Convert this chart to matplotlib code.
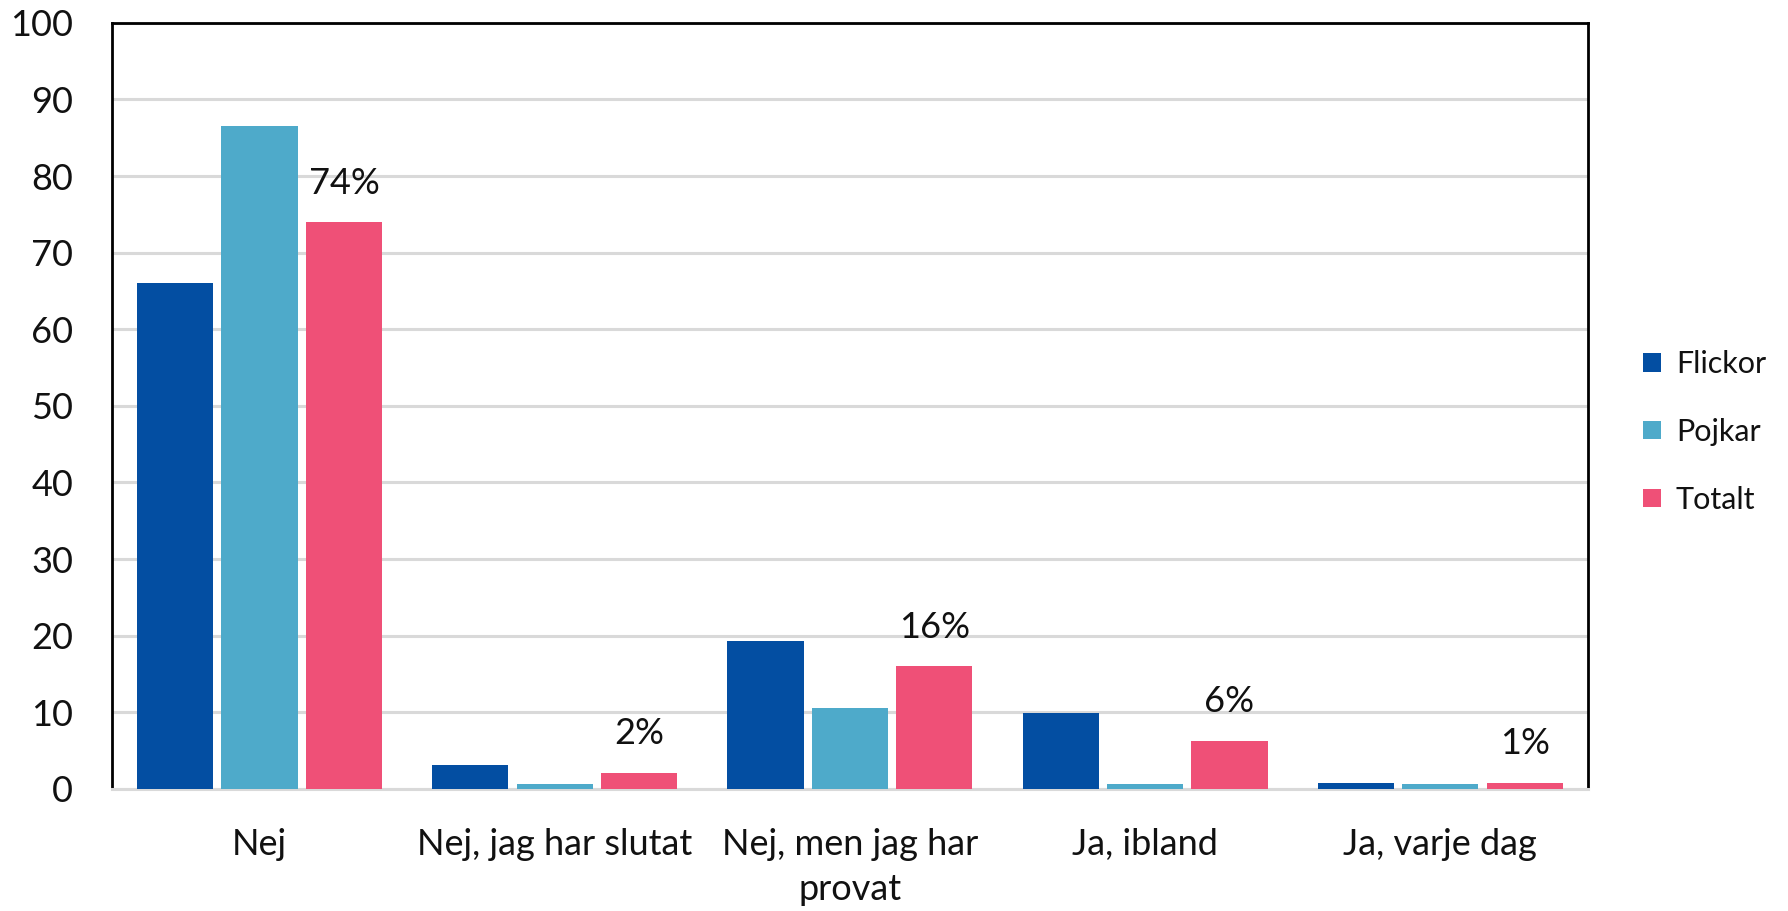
import matplotlib.pyplot as plt
import numpy as np

categories = ["Nej", "Nej, jag har slutat", "Nej, men jag har\nprovat", "Ja, ibland", "Ja, varje dag"]
series_names = ["Flickor", "Pojkar", "Totalt"]
flickor = [66.0, 3.1, 19.3, 9.9, 0.8]
pojkar = [86.5, 0.6, 10.5, 0.6, 0.6]
totalt = [74.0, 2.1, 16.0, 6.3, 0.8]
totalt_labels = ["74%", "2%", "16%", "6%", "1%"]
colors = ["#034ea2", "#4eaaca", "#ef5077"]


def main():
    plt.rcParams['font.family'] = ['Lato', 'DejaVu Sans']
    fig = plt.figure(figsize=(17.88, 9.11), dpi=100)
    ax = fig.add_axes([0.0626, 0.134, 0.8255, 0.841])

    x = np.arange(len(categories))
    step = 0.286
    width = 0.258
    for i, (vals, name) in enumerate(zip([flickor, pojkar, totalt], series_names)):
        ax.bar(x + (i - 1) * step, vals, width, color=colors[i], label=name, zorder=3)

    # labels only on the Totalt series
    for xi, v, lab in zip(x, totalt, totalt_labels):
        ax.annotate(lab, (xi + step, v), xytext=(0, 28), textcoords="offset points",
                    ha="center", va="center", fontsize=26, color="#111111")

    ax.set_xlim(-0.5, 4.5)
    ax.set_ylim(0, 100)
    ax.set_yticks(range(0, 101, 10))
    ax.set_xticks(x)
    ax.set_xticklabels(categories, fontsize=26, color="#111111", linespacing=1.45)
    ax.tick_params(axis="y", labelsize=26, labelcolor="#111111", length=0, pad=28)
    ax.tick_params(axis="x", length=0, pad=28)

    ax.yaxis.grid(True, color="#d9d9d9", linewidth=2.2, zorder=0)
    ax.set_axisbelow(True)
    for s in ["left", "top", "right"]:
        ax.spines[s].set_color("black")
        ax.spines[s].set_linewidth(2)
    ax.spines["bottom"].set_color("#d9d9d9")
    ax.spines["bottom"].set_linewidth(2.2)

    ax.legend(loc="center left", bbox_to_anchor=(1.019, 0.466), frameon=False, fontsize=22,
              handlelength=0.56, handleheight=0.56, handletextpad=0.5, labelspacing=1.3,
              labelcolor="#111111")

    fig.savefig("out.png", dpi=100)


if __name__ == "__main__":
    main()
